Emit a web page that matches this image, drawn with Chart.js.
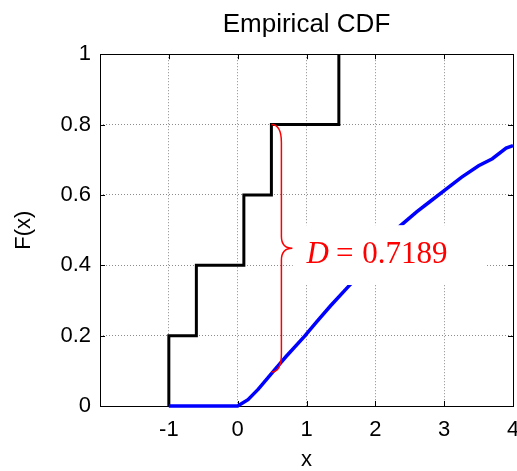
<!DOCTYPE html>
<html>
<head>
<meta charset="utf-8">
<script src="https://cdn.jsdelivr.net/npm/chart.js@4.4.1/dist/chart.umd.min.js"></script>
<style>
  html, body { margin: 0; padding: 0; background: #fff; overflow: hidden; }
  #chart { display: block; }
</style>
</head>
<body>
<canvas id="chart" width="517" height="471"></canvas>
<script>
// sample points of the empirical CDF (black stairs)
const sampleX = [-1, -0.6, 0.09, 0.49, 1.47];

// reference CDF (blue curve)
const cdfX = [-1, 0, 0.15, 0.3, 0.49, 0.7, 0.97, 1.15, 1.35, 1.6, 1.85, 2.1, 2.35, 2.6, 2.8, 3.0, 3.25, 3.5, 3.7, 3.9, 4.0];
const cdfF = [0, 0, 0.018, 0.048, 0.092, 0.14, 0.198, 0.24, 0.285, 0.338, 0.39, 0.45, 0.51, 0.552, 0.582, 0.612, 0.65, 0.683, 0.703, 0.733, 0.74];

// KS statistic annotation
const dValue = 0.7189;
const braceX = 0.49;
const braceTop = 0.8;
const braceBottom = 0.097;
const labelBox = { x0: 0.80, x1: 3.61, y0: 0.344, y1: 0.514 };
const labelAt = { x: 1.0, y: 0.407 };

const sansFont = '"Liberation Sans", Arial, sans-serif';
const serifFont = '"Liberation Serif", "Times New Roman", serif';

// stairs: start at (x1, 0) then i/n at each sample
const stairData = [{ x: sampleX[0], y: 0 }].concat(
    sampleX.map((x, i) => ({ x: x, y: (i + 1) / sampleX.length }))
);
const cdfData = cdfX.map((x, i) => ({ x: x, y: cdfF[i] }));

const overlay = {
    id: 'overlay',
    beforeDatasetsDraw(chart) {
        const { ctx, chartArea: a, scales } = chart;
        ctx.save();
        ctx.strokeStyle = '#000';
        ctx.lineWidth = 1;
        // inward tick marks on all four sides
        ctx.beginPath();
        scales.x.ticks.forEach(t => {
            if (t.value <= scales.x.min || t.value >= scales.x.max) return;
            const px = Math.round(scales.x.getPixelForValue(t.value)) + 0.5;
            ctx.moveTo(px, a.bottom); ctx.lineTo(px, a.bottom - 5);
            ctx.moveTo(px, a.top); ctx.lineTo(px, a.top + 5);
        });
        scales.y.ticks.forEach(t => {
            const py = Math.round(scales.y.getPixelForValue(t.value)) + 0.5;
            ctx.moveTo(a.left, py); ctx.lineTo(a.left + 5, py);
            ctx.moveTo(a.right, py); ctx.lineTo(a.right - 5, py);
        });
        ctx.stroke();
        // axes box
        ctx.strokeRect(Math.round(a.left) + 0.5, Math.round(a.top) + 0.5,
            Math.round(a.right - a.left), Math.round(a.bottom - a.top));
        ctx.restore();
    },
    afterDatasetsDraw(chart) {
        const { ctx, scales } = chart;
        const sx = v => scales.x.getPixelForValue(v);
        const sy = v => scales.y.getPixelForValue(v);
        ctx.save();

        // white label background
        ctx.fillStyle = '#fff';
        ctx.fillRect(sx(labelBox.x0), sy(labelBox.y1),
            sx(labelBox.x1) - sx(labelBox.x0), sy(labelBox.y0) - sy(labelBox.y1));

        // curly brace
        const x0 = sx(braceX), x1 = x0 + 10, x2 = x0 + 21;
        const top = sy(braceTop), bot = sy(braceBottom), mid = (top + bot) / 2;
        ctx.strokeStyle = '#ff0000';
        ctx.lineWidth = 1.5;
        ctx.beginPath();
        ctx.moveTo(x0, top);
        ctx.quadraticCurveTo(x1, top, x1, top + 18);
        ctx.lineTo(x1, mid - 12);
        ctx.quadraticCurveTo(x1, mid, x2, mid);
        ctx.quadraticCurveTo(x1, mid, x1, mid + 12);
        ctx.lineTo(x1, bot - 18);
        ctx.quadraticCurveTo(x1, bot, x0, bot);
        ctx.stroke();

        // D = 0.7189
        ctx.fillStyle = '#ff0000';
        ctx.textBaseline = 'alphabetic';
        ctx.textAlign = 'left';
        let tx = sx(labelAt.x);
        const ty = sy(labelAt.y);
        ctx.font = 'italic 31px ' + serifFont;
        ctx.fillText('D', tx, ty);
        tx += ctx.measureText('D').width + 7;
        ctx.font = '31px ' + serifFont;
        ctx.fillText('=', tx, ty);
        tx += ctx.measureText('=').width + 9;
        ctx.fillText(dValue.toFixed(4), tx, ty);
        ctx.restore();
    }
};

new Chart(document.getElementById('chart'), {
    type: 'line',
    data: {
        datasets: [
            {
                label: 'F(x)',
                data: cdfData,
                borderColor: '#0000ff',
                borderWidth: 3.5,
                pointRadius: 0,
                fill: false,
                tension: 0,
                clip: 3,
                order: 0
            },
            {
                label: 'Empirical',
                data: stairData,
                borderColor: '#000000',
                borderWidth: 3,
                pointRadius: 0,
                fill: false,
                stepped: 'before',
                order: 1
            }
        ]
    },
    options: {
        responsive: false,
        animation: false,
        devicePixelRatio: 1,
        layout: { padding: { left: 0, right: 4, top: 0, bottom: 0 } },
        plugins: {
            legend: { display: false },
            tooltip: { enabled: false },
            title: {
                display: true,
                fullSize: false,
                text: 'Empirical CDF',
                color: '#000',
                font: { family: sansFont, size: 26, weight: 'normal', lineHeight: 1.2 },
                padding: { top: 9, bottom: 14 }
            }
        },
        scales: {
            x: {
                type: 'linear',
                min: -2,
                max: 4,
                afterFit(scale) { scale.height = 65; scale.paddingLeft = 0; scale.paddingRight = 0; },
                ticks: {
                    stepSize: 1,
                    color: '#000',
                    padding: 11,
                    font: { family: sansFont, size: 22 },
                    maxRotation: 0,
                    callback: v => (v === -2 ? '' : String(v))
                },
                grid: { color: '#8c8c8c', lineWidth: 1, drawTicks: false },
                border: { display: false, dash: [1, 2] },
                title: {
                    display: true,
                    text: 'x',
                    color: '#000',
                    font: { family: sansFont, size: 22, lineHeight: 1 },
                    padding: { top: 0, bottom: 0 }
                }
            },
            y: {
                type: 'linear',
                min: 0,
                max: 1,
                afterFit(scale) { scale.width = 100; scale.paddingTop = 0; scale.paddingBottom = 0; },
                ticks: {
                    stepSize: 0.2,
                    color: '#000',
                    padding: 9,
                    font: { family: sansFont, size: 22 },
                    callback: v => String(Number(v.toFixed(1)))
                },
                grid: { color: '#8c8c8c', lineWidth: 1, drawTicks: false },
                border: { display: false, dash: [1, 2] },
                title: {
                    display: true,
                    text: 'F(x)',
                    color: '#000',
                    font: { family: sansFont, size: 22, lineHeight: 1.2 },
                    padding: { top: 11, bottom: 0 }
                }
            }
        }
    },
    plugins: [overlay]
});
</script>
</body>
</html>
